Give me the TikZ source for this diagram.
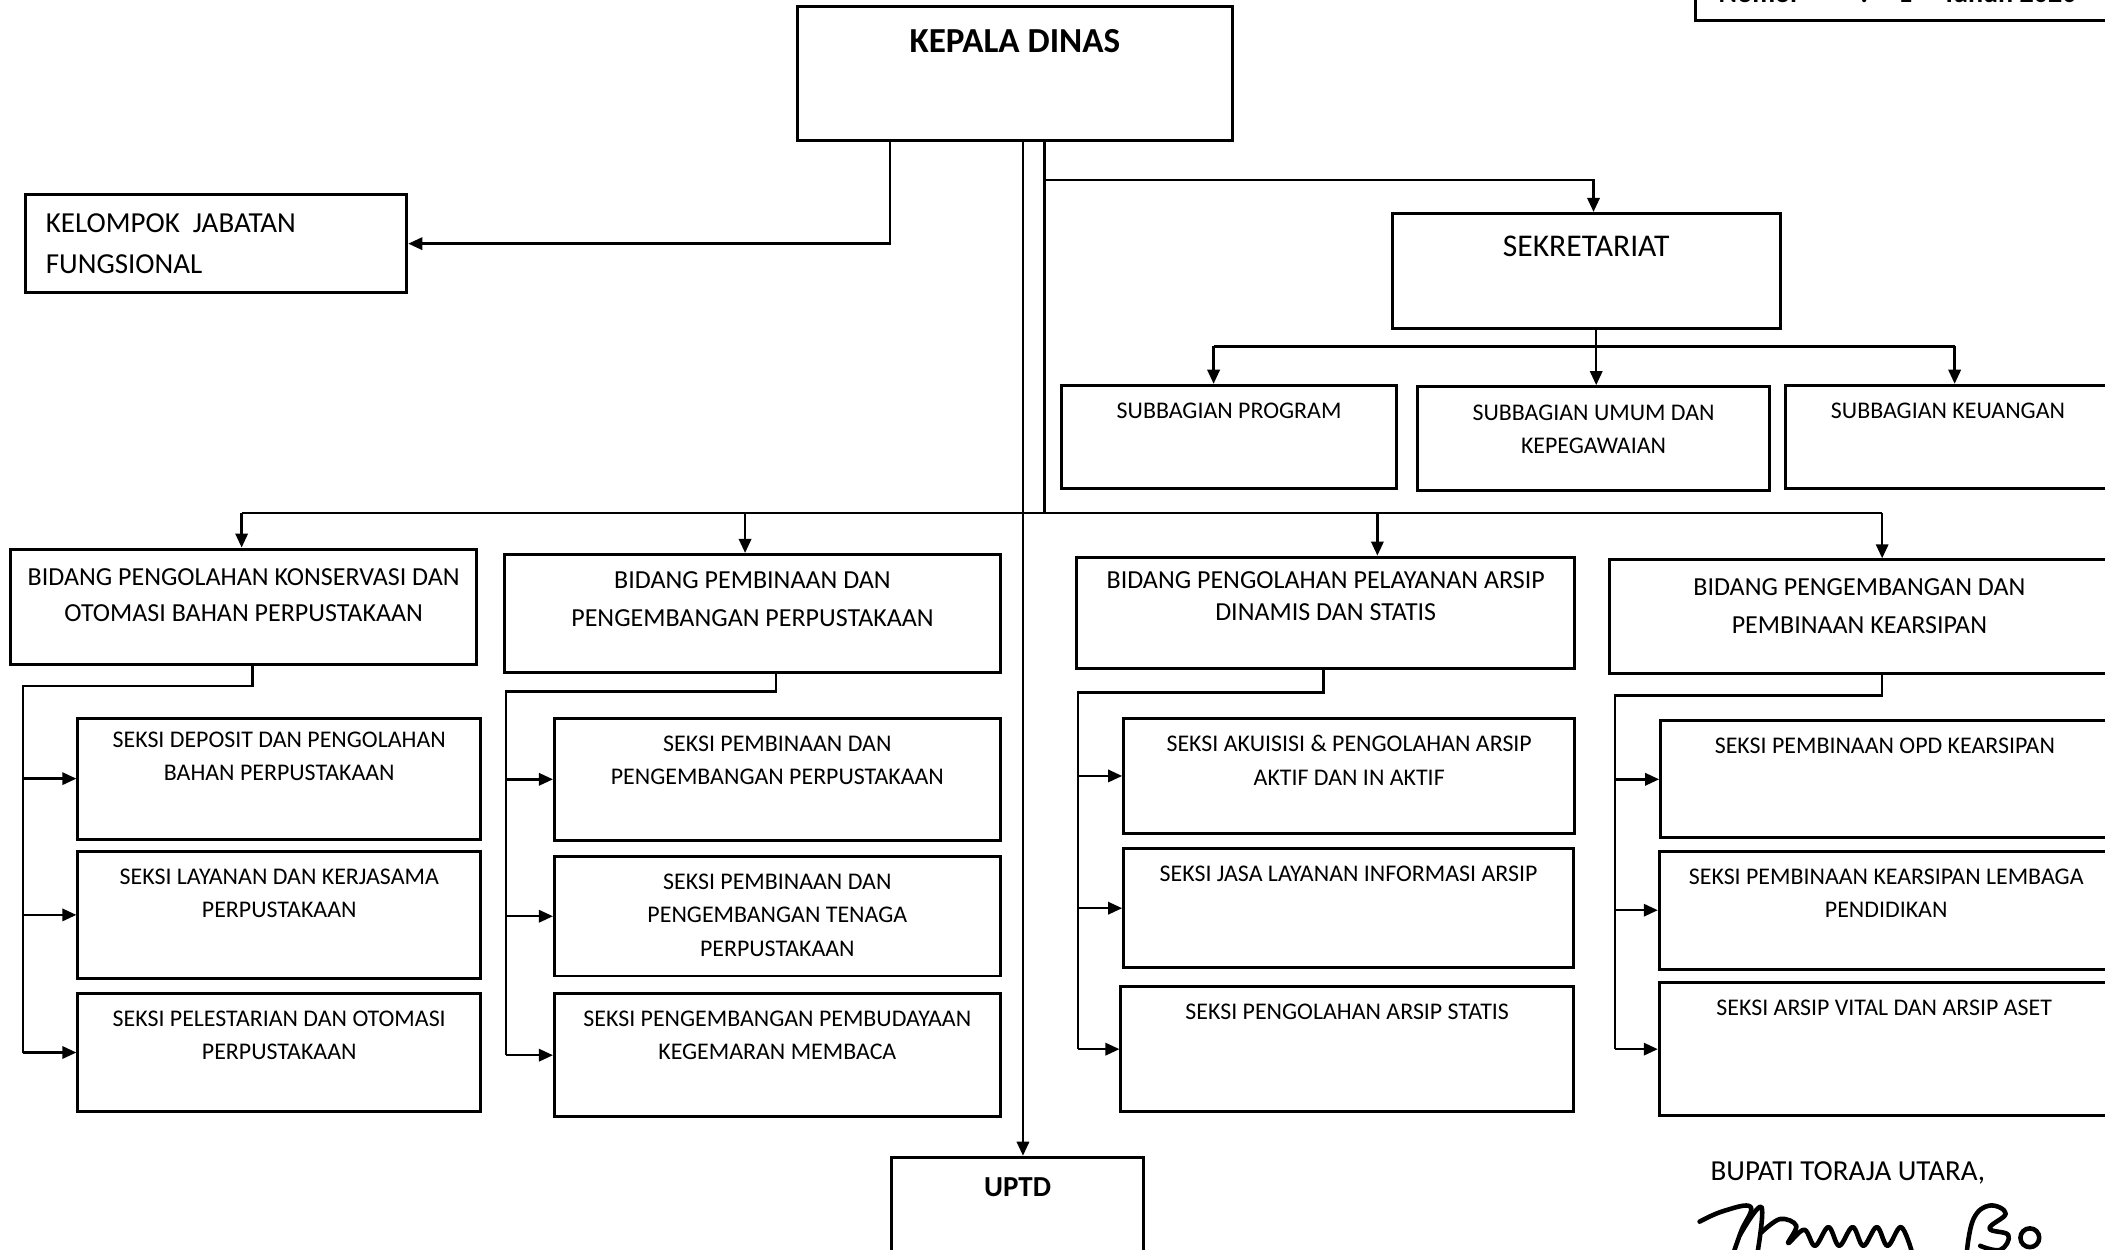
\documentclass[tikz,border=0pt]{standalone}
\usepackage{fontspec}
\setmainfont{Carlito}
\usetikzlibrary{arrows.meta, positioning, fit}

\begin{document}
\begin{tikzpicture}[
  x=0.02685cm, y=-0.02685cm,
  unit/.style={draw, line width=1.7pt, inner sep=0pt},
  intext/.style={anchor=north, align=center, inner sep=0pt, font=\fontsize{13.6}{19}\selectfont, yshift=-0.37cm},
  bidtext/.style={intext, font=\fontsize{14.8}{20.5}\selectfont},
  link/.style={line width=1.4pt},
  arr/.style={link, -{Triangle[length=8pt, width=7pt]}},
  sign/.style={line width=2.6pt, line cap=round, line join=round}
]
\useasboundingbox (0,0) rectangle (1568,931);

% top level
\node[unit, fit={(1263,-40) (1575,15)}] (nomorbox) {};
\node[anchor=base west, inner sep=0pt, font=\fontsize{16}{20}\selectfont\bfseries] (nomor) at (1280,2) {Nomor\hspace{1.2cm}:\hspace{0.6cm}1\hspace{0.6cm}Tahun 2020};
\node[unit, fit={(594,5) (918,105)}, label={[intext, font=\fontsize{20}{24}\selectfont\bfseries, yshift=-0.1cm]north:KEPALA DINAS}] (kadis) {};
\node[unit, fit={(19,145) (303,218)}, label={[intext, anchor=north west, align=left, xshift=0.43cm, yshift=-0.03cm, font=\fontsize{16.5}{23.6}\selectfont]north west:KELOMPOK~ JABATAN\\FUNGSIONAL}] (jf) {};
\node[unit, fit={(1037,159) (1326,245)}, label={[intext, font=\fontsize{18}{22}\selectfont, yshift=-0.1cm]north:SEKRETARIAT}] (sek) {};

% subbagian
\node[unit, fit={(791,287) (1040,364)}, label={[intext, yshift=-0.01cm]north:SUBBAGIAN PROGRAM}] (sub1) {};
\node[unit, fit={(1056,288) (1318,365)}, label={[intext, yshift=-0.01cm]north:SUBBAGIAN UMUM DAN\\KEPEGAWAIAN}] (sub2) {};
\node[unit, fit={(1330,287) (1572,364)}, label={[intext, yshift=-0.01cm]north:SUBBAGIAN KEUANGAN}] (sub3) {};

% bidang
\node[unit, fit={(8,409) (355,495)}, label={[bidtext, yshift=-0.05cm]north:BIDANG PENGOLAHAN KONSERVASI DAN\\OTOMASI BAHAN PERPUSTAKAAN}] (bid1) {};
\node[unit, fit={(376,413) (745,501)}, label={[bidtext, font=\fontsize{14.8}{21.5}\selectfont]north:BIDANG PEMBINAAN DAN\\PENGEMBANGAN PERPUSTAKAAN}] (bid2) {};
\node[unit, fit={(802,415) (1173,498)}, label={[bidtext, font=\fontsize{14.8}{18.5}\selectfont, yshift=0.06cm]north:BIDANG PENGOLAHAN PELAYANAN ARSIP\\DINAMIS DAN STATIS}] (bid3) {};
\node[unit, fit={(1199,417) (1571,502)}, label={[bidtext, font=\fontsize{14.8}{21.5}\selectfont, yshift=-0.03cm]north:BIDANG PENGEMBANGAN DAN\\PEMBINAAN KEARSIPAN}] (bid4) {};

% seksi
\node[unit, fit={(58,535) (358,625)}, label={[intext, yshift=0.07cm]north:SEKSI DEPOSIT DAN PENGOLAHAN\\BAHAN PERPUSTAKAAN}] (s11) {};
\node[unit, fit={(58,634) (358,729)}, label={[intext]north:SEKSI LAYANAN DAN KERJASAMA\\PERPUSTAKAAN}] (s12) {};
\node[unit, fit={(58,740) (358,828)}, label={[intext]north:SEKSI PELESTARIAN DAN OTOMASI\\PERPUSTAKAAN}] (s13) {};
\node[unit, fit={(413,535) (745,626)}, label={[intext]north:SEKSI PEMBINAAN DAN\\PENGEMBANGAN PERPUSTAKAAN}] (s21) {};
\node[unit, fit={(413,638) (745,727)}, label={[intext]north:SEKSI PEMBINAAN DAN\\PENGEMBANGAN TENAGA\\PERPUSTAKAAN}] (s22) {};
\node[unit, fit={(413,740) (745,832)}, label={[intext]north:SEKSI PENGEMBANGAN PEMBUDAYAAN\\KEGEMARAN MEMBACA}] (s23) {};
\node[unit, fit={(837,535) (1173,621)}, label={[intext]north:SEKSI AKUISISI \& PENGOLAHAN ARSIP\\AKTIF DAN IN AKTIF}] (s31) {};
\node[unit, fit={(837,632) (1172,721)}, label={[intext]north:SEKSI JASA LAYANAN INFORMASI ARSIP}] (s32) {};
\node[unit, fit={(835,735) (1172,828)}, label={[intext]north:SEKSI PENGOLAHAN ARSIP STATIS}] (s33) {};
\node[unit, fit={(1237,537) (1571,624)}, label={[intext]north:SEKSI PEMBINAAN OPD KEARSIPAN}] (s41) {};
\node[unit, fit={(1236,634) (1574,722)}, label={[intext]north:SEKSI PEMBINAAN KEARSIPAN LEMBAGA\\PENDIDIKAN}] (s42) {};
\node[unit, fit={(1236,732) (1571,831)}, label={[intext]north:SEKSI ARSIP VITAL DAN ARSIP ASET}] (s43) {};

\node[unit, fit={(664,862) (852,935)}, label={[intext, font=\fontsize{16.5}{20}\selectfont\bfseries, yshift=-0.06cm]north:UPTD}] (uptd) {};
\node[anchor=base west, inner sep=0pt, font=\fontsize{16.5}{20}\selectfont] (bupati) at (1274,879) {BUPATI TORAJA UTARA,};

% connectors from kepala dinas
\draw[arr] (663,0 |- kadis.south) |- (jf.east);
\draw[arr] (762,0 |- kadis.south) -- (762,0 |- uptd.north);
\draw[link] (778,0 |- kadis.south) -- (778,383);
\draw[arr] (778,134) -| (1187,0 |- sek.north);

% sekretariat to subbagian
\draw[link] (1189,0 |- sek.south) -- (1189,258);
\draw[link] (904,258) -- (1456,258);
\draw[arr] (904,258) -- (904,0 |- sub1.north);
\draw[arr] (1189,258) -- (1189,0 |- sub2.north);
\draw[arr] (1456,258) -- (1456,0 |- sub3.north);

% bidang bus
\draw[link] (180,382) -- (1402,382);
\draw[arr] (180,382) -- (180,0 |- bid1.north);
\draw[arr] (555,382) -- (555,0 |- bid2.north);
\draw[arr] (1026,382) -- (1026,0 |- bid3.north);
\draw[arr] (1402,382) -- (1402,0 |- bid4.north);

% bidang to seksi
\draw[link] (188,0 |- bid1.south) -- (188,511) -| (17,0 |- s13.west);
\draw[arr] (17,0 |- s11.west) -- (s11.west);
\draw[arr] (17,0 |- s12.west) -- (s12.west);
\draw[arr] (17,0 |- s13.west) -- (s13.west);
\draw[link] (578,0 |- bid2.south) -- (578,515) -| (377,0 |- s23.west);
\draw[arr] (377,0 |- s21.west) -- (s21.west);
\draw[arr] (377,0 |- s22.west) -- (s22.west);
\draw[arr] (377,0 |- s23.west) -- (s23.west);
\draw[link] (986,0 |- bid3.south) -- (986,516) -| (803,0 |- s33.west);
\draw[arr] (803,0 |- s31.west) -- (s31.west);
\draw[arr] (803,0 |- s32.west) -- (s32.west);
\draw[arr] (803,0 |- s33.west) -- (s33.west);
\draw[link] (1402,0 |- bid4.south) -- (1402,518) -| (1203,0 |- s43.west);
\draw[arr] (1203,0 |- s41.west) -- (s41.west);
\draw[arr] (1203,0 |- s42.west) -- (s42.west);
\draw[arr] (1203,0 |- s43.west) -- (s43.west);

% signature
\draw[sign] plot[smooth, tension=0.7] coordinates {(1266,910) (1284,902) (1304,899) (1297,917) (1291,934)};
\draw[sign] plot[smooth, tension=0.7] coordinates {(1296,920) (1312,899) (1309,934)};
\draw[sign] plot[smooth, tension=0.6] coordinates {(1312,918) (1326,908) (1338,913) (1332,926) (1344,916) (1352,928) (1362,914) (1370,928) (1380,914) (1388,928) (1398,914) (1406,928) (1416,914) (1424,932)};
\draw[sign] plot[smooth, tension=0.7] coordinates {(1465,933) (1470,908) (1482,898) (1494,904) (1482,915) (1496,920) (1490,931) (1475,928)};
\draw[sign] (1512,922) circle[radius=7];
\end{tikzpicture}
\end{document}
